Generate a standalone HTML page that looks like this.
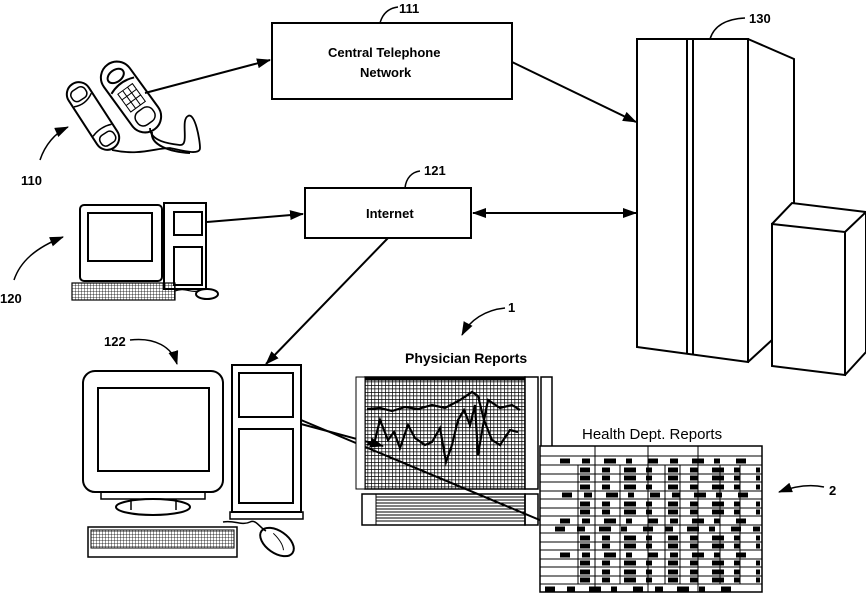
<!DOCTYPE html>
<html><head><meta charset="utf-8"><style>
html,body{margin:0;padding:0;background:#fff}
svg{display:block}
text{font-family:"Liberation Sans",sans-serif;font-weight:bold;fill:#000}
</style></head><body>
<svg width="866" height="595" viewBox="0 0 866 595" xmlns="http://www.w3.org/2000/svg">
<defs>
<marker id="ah" markerWidth="14" markerHeight="10" refX="13" refY="5" orient="auto" markerUnits="userSpaceOnUse"><path d="M0,0 L14,5 L0,10 Z" fill="#000"/></marker>
<marker id="ahs" markerWidth="14" markerHeight="10" refX="1" refY="5" orient="auto" markerUnits="userSpaceOnUse"><path d="M14,0 L0,5 L14,10 Z" fill="#000"/></marker>
<pattern id="grid" width="3.5" height="3.5" patternUnits="userSpaceOnUse"><path d="M0,0 H3.5 M0,0 V3.5" stroke="#000" stroke-width="1.4"/></pattern>
<pattern id="kb" width="3" height="3" patternUnits="userSpaceOnUse"><path d="M0,0 H3 M0,0 V3" stroke="#000" stroke-width="0.8"/></pattern>
</defs>
<g fill="none" stroke="#000" stroke-width="2">
<rect x="272" y="23" width="240" height="76"/>
<path d="M380,23 C383,12 390,8 398,7" stroke-width="1.5"/>
<rect x="305" y="188" width="166" height="50"/>
<path d="M405,188 C406,178 412,172 420,171" stroke-width="1.5"/>
<path d="M637,39 H748 V362 L637,347 Z"/>
<path d="M687,40 V354 M693,40 V355"/>
<path d="M748,39 L794,59 V203"/>
<path d="M748,362 L772,340"/>
<path d="M772,224 L845,232 V375 L772,366 Z"/>
<path d="M772,224 L792,203 L866,212 L845,232 M866,212 V352 L845,375"/>
<path d="M710,39 C714,26 725,19 745,18" stroke-width="1.5"/>
<path d="M145,93 L270,60" marker-end="url(#ah)"/>
<path d="M512,62 L636,122" marker-end="url(#ah)"/>
<path d="M207,222 L303,214" marker-end="url(#ah)"/>
<path d="M473,213 L636,213" marker-end="url(#ah)" marker-start="url(#ahs)"/>
<path d="M388,238 L266,364" marker-end="url(#ah)"/>
<path d="M301,424 L383,446" marker-end="url(#ah)"/>
<path d="M301,420 L566,531" marker-end="url(#ah)"/>
<path d="M40,160 C45,145 55,133 68,127" marker-end="url(#ah)" stroke-width="1.5"/>
<path d="M14,280 C20,262 35,248 63,237" marker-end="url(#ah)" stroke-width="1.5"/>
<path d="M130,340 C155,337 172,347 177,364" marker-end="url(#ah)" stroke-width="1.5"/>
<path d="M505,308 C485,310 470,320 462,335" marker-end="url(#ah)" stroke-width="1.5"/>
<path d="M824,487 C810,484 795,486 779,492" marker-end="url(#ah)" stroke-width="1.5"/>
<g transform="translate(131,97) rotate(-36)"><rect x="-16" y="-40" width="32" height="80" rx="16"/><ellipse cx="0" cy="-26" rx="9" ry="6"/><path d="M-14,-14 Q0,-20 14,-14"/><rect x="-9" y="-10" width="18" height="22" stroke-width="1"/><path d="M-9,-3 H9 M-9,4 H9 M-3,-10 V12 M3,-10 V12" stroke-width="1"/><rect x="-10" y="16" width="20" height="16" rx="7" stroke-width="1.5"/></g>
<g transform="translate(93,116) rotate(-33)"><rect x="-12" y="-38" width="24" height="76" rx="12"/><rect x="-8" y="-32" width="16" height="12" rx="5" stroke-width="1.5"/><rect x="-8" y="21" width="16" height="12" rx="5" stroke-width="1.5"/><path d="M-11,-18 Q0,-13 11,-20 M-11,17 Q0,13 11,17" stroke-width="1.5"/></g>
<path d="M150,128 C150,142 172,144 180,145 C190,146 180,120 188,116 C195,112 200,140 200,148 C200,156 180,150 170,148 C155,148 140,156 112,150" stroke-width="1.8"/>
<path d="M152,132 C150,145 170,152 190,153"/>
<rect x="80" y="205" width="82" height="76" rx="4"/>
<rect x="88" y="213" width="64" height="48"/>
<rect x="164" y="203" width="42" height="86"/>
<rect x="174" y="212" width="28" height="23"/>
<rect x="174" y="247" width="28" height="38"/>
<rect x="72" y="283" width="103" height="17" fill="url(#kb)" stroke-width="1.2"/>
<ellipse cx="207" cy="294" rx="11" ry="5"/>
<path d="M175,291 C185,287 190,293 198,291" stroke-width="1.2"/>
<rect x="83" y="371" width="140" height="121" rx="12"/>
<rect x="98" y="388" width="111" height="83"/>
<rect x="101" y="492" width="104" height="7" stroke-width="1.5"/>
<ellipse cx="153" cy="507" rx="37" ry="8"/>
<path d="M131,499 V510 M176,499 V510" stroke-width="1.5"/>
<rect x="232" y="365" width="69" height="147"/>
<rect x="239" y="373" width="54" height="44"/>
<rect x="239" y="429" width="54" height="74"/>
<rect x="230" y="512" width="73" height="7" stroke-width="1.5"/>
<rect x="88" y="527" width="149" height="30" stroke-width="1.5"/>
<rect x="91" y="530" width="143" height="18" fill="url(#kb)" stroke-width="1"/>
<g transform="translate(277,542) rotate(35)"><ellipse cx="0" cy="0" rx="19" ry="11"/><path d="M-8,-5 Q5,-3 10,3" stroke-width="1"/></g>
<path d="M223,522 C235,520 242,526 250,522 C256,519 260,528 266,531" stroke-width="1.5"/>
<rect x="365" y="377" width="160" height="112" fill="url(#grid)" stroke-width="1.5"/>
<path d="M365,379 H525" stroke-width="3"/>
<rect x="525" y="377" width="13" height="112" fill="#fff" stroke-width="1.5"/>
<rect x="541" y="377" width="11" height="112" fill="#fff" stroke-width="1.5"/>
<rect x="356" y="377" width="9" height="112" fill="#fff" stroke-width="1"/>
<path d="M367,409 L380,408 L392,411 L405,407 L418,409 L432,405 L445,408 L460,400 L472,392 L478,396 L484,420 L488,400 L500,408 L512,405 L520,410" stroke-width="2.2"/>
<path d="M367,445 L375,440 L380,420 L388,440 L394,432 L400,448 L408,425 L415,438 L425,445 L432,442 L440,428 L446,462 L452,445 L458,420 L464,410 L470,425 L475,405 L478,455 L484,420 L492,440 L500,445 L510,430 L518,432" stroke-width="2.2"/>
<rect x="362" y="494" width="163" height="31" stroke-width="1.5"/>
<rect x="525" y="494" width="13" height="31" stroke-width="1.5"/>
<path d="M376,494 V525 M376,497 H525 M376,500 H525 M376,503 H525 M376,506 H525 M376,509 H525 M376,512 H525 M376,515 H525 M376,518 H525 M376,521 H525" stroke-width="1"/>
<rect x="540" y="446" width="222" height="146" fill="#fff" stroke-width="1.5"/>
<g stroke-width="1">
<path d="M540,456 H762 M540,465 H762 M540,474 H762 M540,482 H762 M540,491 H762 M540,499 H762 M540,508 H762 M540,516 H762 M540,525 H762 M540,533 H762 M540,542 H762 M540,550 H762 M540,559 H762 M540,567 H762 M540,576 H762 M540,584 H762"/>
<path d="M595,446 V592 M648,446 V592 M698,446 V592 M578,465 V584 M620,465 V584 M665,465 V584 M680,465 V584 M720,465 V584 M740,465 V584"/>
</g>
<g stroke-width="5" stroke-dasharray="10 12 8 14 12 10 6 16">
<path d="M560,461 H755 M580,470 H760 M580,478 H760 M580,487 H760 M562,495 H755 M580,504 H760 M580,512 H760 M560,521 H755 M555,529 H760 M580,538 H760 M580,546 H760 M560,555 H755 M580,563 H760 M580,572 H760 M580,580 H760 M545,589 H740"/>
</g>
</g>
<g font-size="13">
<text x="328" y="57">Central Telephone</text>
<text x="360" y="77">Network</text>
<text x="366" y="218">Internet</text>
<text x="399" y="13">111</text>
<text x="424" y="175">121</text>
<text x="749" y="23">130</text>
<text x="21" y="185">110</text>
<text x="0" y="303">120</text>
<text x="104" y="346">122</text>
<text x="508" y="312">1</text>
<text x="829" y="495">2</text>
<text x="405" y="363" font-size="14">Physician Reports</text>
<text x="582" y="439" font-size="15" style="font-weight:normal">Health Dept. Reports</text>
</g>
</svg>
</body></html>
